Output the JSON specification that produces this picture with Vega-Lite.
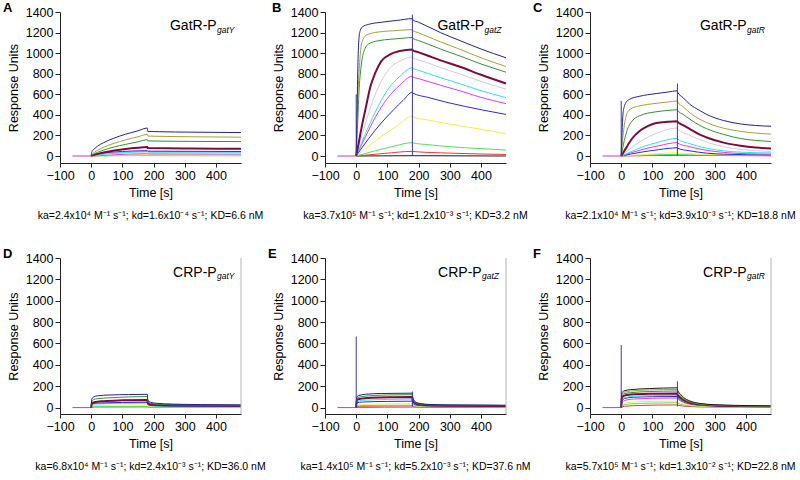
{
"$schema":"https://vega.github.io/schema/vega-lite/v6.json",
"background":"white",
"padding":{"left":3,"top":2,"right":2,"bottom":2},
"config":{"view":{"stroke":null},"font":"Liberation Sans",
"axis":{"grid":false,"domainColor":"#222","tickColor":"#222","labelColor":"#000","titleColor":"#000","labelFontSize":12.5,"titleFontSize":12.5,"titleFontWeight":"normal","tickSize":4,"labelPadding":2,"titlePadding":5,"labelFlush":false,"labelOverlap":false,"tickCount":20},
"axisY":{"tickSize":5,"labelPadding":2},
"title":{"color":"#000","font":"Liberation Sans"},
"text":{"font":"Liberation Sans","color":"#000"}},
"datasets":{
"s":[{"p":"B","t":0,"lo":0,"hi":600},{"p":"B","t":180,"lo":0,"hi":1375},{"p":"C","t":0,"lo":0,"hi":534},{"p":"C","t":180,"lo":0,"hi":705},{"p":"E","t":0,"lo":0,"hi":665},{"p":"E","t":180,"lo":10,"hi":150},{"p":"F","t":0,"lo":0,"hi":585},{"p":"F","t":180,"lo":10,"hi":245}],
"d":[
{"p":"A","c":"pre","t":-60,"v":0},{"p":"A","c":"pre","t":0,"v":0},
{"p":"B","c":"pre","t":-60,"v":0},{"p":"B","c":"pre","t":0,"v":0},
{"p":"C","c":"pre","t":-60,"v":0},{"p":"C","c":"pre","t":0,"v":0},
{"p":"D","c":"pre","t":-60,"v":0},{"p":"D","c":"pre","t":0,"v":0},
{"p":"E","c":"pre","t":-60,"v":0},{"p":"E","c":"pre","t":0,"v":0},
{"p":"F","c":"pre","t":-60,"v":0},{"p":"F","c":"pre","t":0,"v":0},
{"p":"A","c":"c10","t":0,"v":0},{"p":"A","c":"c10","t":180,"v":4},{"p":"A","c":"c10","t":480,"v":2},
{"p":"A","c":"c9","t":0,"v":0},{"p":"A","c":"c9","t":180,"v":12},{"p":"A","c":"c9","t":181,"v":11},{"p":"A","c":"c9","t":480,"v":9},
{"p":"A","c":"c7","t":0,"v":0},{"p":"A","c":"c7","t":60,"v":10},{"p":"A","c":"c7","t":180,"v":22},{"p":"A","c":"c7","t":181,"v":20},{"p":"A","c":"c7","t":480,"v":18},
{"p":"A","c":"c5","t":0,"v":0},{"p":"A","c":"c5","t":40,"v":15},{"p":"A","c":"c5","t":110,"v":30},{"p":"A","c":"c5","t":180,"v":38},{"p":"A","c":"c5","t":181,"v":34},{"p":"A","c":"c5","t":480,"v":31},
{"p":"A","c":"c6","t":0,"v":0},{"p":"A","c":"c6","t":40,"v":18},{"p":"A","c":"c6","t":110,"v":35},{"p":"A","c":"c6","t":180,"v":44},{"p":"A","c":"c6","t":181,"v":40},{"p":"A","c":"c6","t":480,"v":37},
{"p":"A","c":"c8","t":0,"v":0},{"p":"A","c":"c8","t":20,"v":20},{"p":"A","c":"c8","t":70,"v":38},{"p":"A","c":"c8","t":130,"v":48},{"p":"A","c":"c8","t":180,"v":52},{"p":"A","c":"c8","t":181,"v":47},{"p":"A","c":"c8","t":480,"v":44},
{"p":"A","c":"c4","t":0,"v":0},{"p":"A","c":"c4","t":5,"v":8},{"p":"A","c":"c4","t":10,"v":12},{"p":"A","c":"c4","t":20,"v":20},{"p":"A","c":"c4","t":40,"v":35},{"p":"A","c":"c4","t":70,"v":52},{"p":"A","c":"c4","t":110,"v":68},{"p":"A","c":"c4","t":150,"v":80},{"p":"A","c":"c4","t":180,"v":87},{"p":"A","c":"c4","t":181,"v":77},{"p":"A","c":"c4","t":320,"v":73},{"p":"A","c":"c4","t":480,"v":71},
{"p":"A","c":"c3","t":0,"v":0},{"p":"A","c":"c3","t":2,"v":8},{"p":"A","c":"c3","t":5,"v":14},{"p":"A","c":"c3","t":10,"v":22},{"p":"A","c":"c3","t":20,"v":35},{"p":"A","c":"c3","t":40,"v":58},{"p":"A","c":"c3","t":70,"v":85},{"p":"A","c":"c3","t":110,"v":113},{"p":"A","c":"c3","t":150,"v":138},{"p":"A","c":"c3","t":180,"v":158},{"p":"A","c":"c3","t":181,"v":147},{"p":"A","c":"c3","t":220,"v":145},{"p":"A","c":"c3","t":320,"v":142},{"p":"A","c":"c3","t":480,"v":140},
{"p":"A","c":"c2","t":0,"v":0},{"p":"A","c":"c2","t":2,"v":15},{"p":"A","c":"c2","t":5,"v":25},{"p":"A","c":"c2","t":10,"v":35},{"p":"A","c":"c2","t":20,"v":55},{"p":"A","c":"c2","t":40,"v":85},{"p":"A","c":"c2","t":70,"v":120},{"p":"A","c":"c2","t":110,"v":157},{"p":"A","c":"c2","t":150,"v":187},{"p":"A","c":"c2","t":180,"v":210},{"p":"A","c":"c2","t":181,"v":194},{"p":"A","c":"c2","t":220,"v":191},{"p":"A","c":"c2","t":320,"v":187},{"p":"A","c":"c2","t":480,"v":183},
{"p":"A","c":"c1","t":0,"v":0},{"p":"A","c":"c1","t":2,"v":40},{"p":"A","c":"c1","t":5,"v":55},{"p":"A","c":"c1","t":10,"v":70},{"p":"A","c":"c1","t":20,"v":95},{"p":"A","c":"c1","t":40,"v":130},{"p":"A","c":"c1","t":70,"v":170},{"p":"A","c":"c1","t":110,"v":212},{"p":"A","c":"c1","t":150,"v":245},{"p":"A","c":"c1","t":180,"v":272},{"p":"A","c":"c1","t":181,"v":240},{"p":"A","c":"c1","t":220,"v":236},{"p":"A","c":"c1","t":320,"v":232},{"p":"A","c":"c1","t":480,"v":228},

{"p":"B","c":"c12","t":0,"v":0},{"p":"B","c":"c12","t":180,"v":3},{"p":"B","c":"c12","t":480,"v":0},
{"p":"B","c":"c11","t":0,"v":0},{"p":"B","c":"c11","t":90,"v":25},{"p":"B","c":"c11","t":180,"v":45},{"p":"B","c":"c11","t":181,"v":44},{"p":"B","c":"c11","t":300,"v":28},{"p":"B","c":"c11","t":480,"v":15},
{"p":"B","c":"c10","t":0,"v":0},{"p":"B","c":"c10","t":60,"v":50},{"p":"B","c":"c10","t":120,"v":95},{"p":"B","c":"c10","t":180,"v":130},{"p":"B","c":"c10","t":181,"v":128},{"p":"B","c":"c10","t":230,"v":110},{"p":"B","c":"c10","t":300,"v":90},{"p":"B","c":"c10","t":400,"v":72},{"p":"B","c":"c10","t":480,"v":58},
{"p":"B","c":"c9","t":0,"v":0},{"p":"B","c":"c9","t":40,"v":95},{"p":"B","c":"c9","t":80,"v":190},{"p":"B","c":"c9","t":130,"v":290},{"p":"B","c":"c9","t":180,"v":388},{"p":"B","c":"c9","t":181,"v":383},{"p":"B","c":"c9","t":230,"v":350},{"p":"B","c":"c9","t":300,"v":310},{"p":"B","c":"c9","t":400,"v":260},{"p":"B","c":"c9","t":480,"v":217},
{"p":"B","c":"c8","t":0,"v":0},{"p":"B","c":"c8","t":40,"v":170},{"p":"B","c":"c8","t":80,"v":320},{"p":"B","c":"c8","t":120,"v":450},{"p":"B","c":"c8","t":150,"v":540},{"p":"B","c":"c8","t":180,"v":620},{"p":"B","c":"c8","t":181,"v":612},{"p":"B","c":"c8","t":230,"v":570},{"p":"B","c":"c8","t":300,"v":515},{"p":"B","c":"c8","t":400,"v":450},{"p":"B","c":"c8","t":480,"v":404},
{"p":"B","c":"c7","t":0,"v":0},{"p":"B","c":"c7","t":30,"v":190},{"p":"B","c":"c7","t":60,"v":370},{"p":"B","c":"c7","t":100,"v":560},{"p":"B","c":"c7","t":140,"v":690},{"p":"B","c":"c7","t":180,"v":775},{"p":"B","c":"c7","t":181,"v":769},{"p":"B","c":"c7","t":200,"v":752},{"p":"B","c":"c7","t":230,"v":725},{"p":"B","c":"c7","t":270,"v":688},{"p":"B","c":"c7","t":330,"v":636},{"p":"B","c":"c7","t":400,"v":570},{"p":"B","c":"c7","t":480,"v":509},
{"p":"B","c":"c6","t":0,"v":0},{"p":"B","c":"c6","t":30,"v":220},{"p":"B","c":"c6","t":60,"v":420},{"p":"B","c":"c6","t":100,"v":640},{"p":"B","c":"c6","t":140,"v":775},{"p":"B","c":"c6","t":180,"v":858},{"p":"B","c":"c6","t":181,"v":852},{"p":"B","c":"c6","t":200,"v":833},{"p":"B","c":"c6","t":230,"v":803},{"p":"B","c":"c6","t":270,"v":762},{"p":"B","c":"c6","t":330,"v":705},{"p":"B","c":"c6","t":400,"v":635},{"p":"B","c":"c6","t":480,"v":568},
{"p":"B","c":"c5","t":0,"v":0},{"p":"B","c":"c5","t":20,"v":220},{"p":"B","c":"c5","t":40,"v":420},{"p":"B","c":"c5","t":73,"v":683},{"p":"B","c":"c5","t":110,"v":860},{"p":"B","c":"c5","t":145,"v":930},{"p":"B","c":"c5","t":180,"v":962},{"p":"B","c":"c5","t":181,"v":955},{"p":"B","c":"c5","t":200,"v":935},{"p":"B","c":"c5","t":230,"v":905},{"p":"B","c":"c5","t":270,"v":860},{"p":"B","c":"c5","t":330,"v":800},{"p":"B","c":"c5","t":400,"v":725},{"p":"B","c":"c5","t":480,"v":650},
{"p":"B","c":"c4","t":0,"v":0},{"p":"B","c":"c4","t":10,"v":160},{"p":"B","c":"c4","t":20,"v":320},{"p":"B","c":"c4","t":30,"v":460},{"p":"B","c":"c4","t":46,"v":680},{"p":"B","c":"c4","t":60,"v":800},{"p":"B","c":"c4","t":80,"v":920},{"p":"B","c":"c4","t":110,"v":990},{"p":"B","c":"c4","t":140,"v":1020},{"p":"B","c":"c4","t":180,"v":1035},{"p":"B","c":"c4","t":181,"v":1028},{"p":"B","c":"c4","t":200,"v":1008},{"p":"B","c":"c4","t":230,"v":975},{"p":"B","c":"c4","t":270,"v":930},{"p":"B","c":"c4","t":330,"v":870},{"p":"B","c":"c4","t":400,"v":790},{"p":"B","c":"c4","t":480,"v":705},
{"p":"B","c":"c3","t":0,"v":0},{"p":"B","c":"c3","t":5,"v":350},{"p":"B","c":"c3","t":9,"v":630},{"p":"B","c":"c3","t":15,"v":850},{"p":"B","c":"c3","t":25,"v":1020},{"p":"B","c":"c3","t":40,"v":1090},{"p":"B","c":"c3","t":70,"v":1120},{"p":"B","c":"c3","t":110,"v":1135},{"p":"B","c":"c3","t":150,"v":1145},{"p":"B","c":"c3","t":180,"v":1152},{"p":"B","c":"c3","t":181,"v":1145},{"p":"B","c":"c3","t":200,"v":1122},{"p":"B","c":"c3","t":230,"v":1088},{"p":"B","c":"c3","t":270,"v":1040},{"p":"B","c":"c3","t":330,"v":975},{"p":"B","c":"c3","t":400,"v":895},{"p":"B","c":"c3","t":480,"v":815},
{"p":"B","c":"c2","t":0,"v":0},{"p":"B","c":"c2","t":3,"v":300},{"p":"B","c":"c2","t":6,"v":620},{"p":"B","c":"c2","t":10,"v":850},{"p":"B","c":"c2","t":15,"v":1050},{"p":"B","c":"c2","t":20,"v":1120},{"p":"B","c":"c2","t":35,"v":1180},{"p":"B","c":"c2","t":70,"v":1205},{"p":"B","c":"c2","t":120,"v":1218},{"p":"B","c":"c2","t":180,"v":1228},{"p":"B","c":"c2","t":181,"v":1220},{"p":"B","c":"c2","t":200,"v":1198},{"p":"B","c":"c2","t":230,"v":1160},{"p":"B","c":"c2","t":270,"v":1110},{"p":"B","c":"c2","t":330,"v":1040},{"p":"B","c":"c2","t":400,"v":955},{"p":"B","c":"c2","t":480,"v":870},
{"p":"B","c":"c1","t":0,"v":0},{"p":"B","c":"c1","t":3,"v":500},{"p":"B","c":"c1","t":6,"v":950},{"p":"B","c":"c1","t":9,"v":1150},{"p":"B","c":"c1","t":13,"v":1220},{"p":"B","c":"c1","t":20,"v":1255},{"p":"B","c":"c1","t":40,"v":1280},{"p":"B","c":"c1","t":80,"v":1300},{"p":"B","c":"c1","t":130,"v":1318},{"p":"B","c":"c1","t":180,"v":1335},{"p":"B","c":"c1","t":181,"v":1325},{"p":"B","c":"c1","t":200,"v":1300},{"p":"B","c":"c1","t":230,"v":1258},{"p":"B","c":"c1","t":270,"v":1200},{"p":"B","c":"c1","t":330,"v":1125},{"p":"B","c":"c1","t":400,"v":1040},{"p":"B","c":"c1","t":480,"v":955},

{"p":"C","c":"c11","t":0,"v":0},{"p":"C","c":"c11","t":180,"v":6},{"p":"C","c":"c11","t":480,"v":2},
{"p":"C","c":"c10","t":0,"v":0},{"p":"C","c":"c10","t":180,"v":15},{"p":"C","c":"c10","t":181,"v":14},{"p":"C","c":"c10","t":300,"v":8},{"p":"C","c":"c10","t":480,"v":5},
{"p":"C","c":"c9","t":0,"v":0},{"p":"C","c":"c9","t":90,"v":18},{"p":"C","c":"c9","t":180,"v":30},{"p":"C","c":"c9","t":181,"v":28},{"p":"C","c":"c9","t":300,"v":15},{"p":"C","c":"c9","t":480,"v":10},
{"p":"C","c":"c8","t":0,"v":0},{"p":"C","c":"c8","t":60,"v":35},{"p":"C","c":"c8","t":120,"v":62},{"p":"C","c":"c8","t":180,"v":80},{"p":"C","c":"c8","t":181,"v":75},{"p":"C","c":"c8","t":220,"v":50},{"p":"C","c":"c8","t":274,"v":28},{"p":"C","c":"c8","t":328,"v":18},{"p":"C","c":"c8","t":480,"v":10},
{"p":"C","c":"c7","t":0,"v":0},{"p":"C","c":"c7","t":30,"v":30},{"p":"C","c":"c7","t":70,"v":65},{"p":"C","c":"c7","t":120,"v":100},{"p":"C","c":"c7","t":180,"v":130},{"p":"C","c":"c7","t":181,"v":125},{"p":"C","c":"c7","t":220,"v":90},{"p":"C","c":"c7","t":274,"v":55},{"p":"C","c":"c7","t":328,"v":35},{"p":"C","c":"c7","t":400,"v":22},{"p":"C","c":"c7","t":480,"v":18},
{"p":"C","c":"c6","t":0,"v":0},{"p":"C","c":"c6","t":30,"v":40},{"p":"C","c":"c6","t":70,"v":90},{"p":"C","c":"c6","t":120,"v":135},{"p":"C","c":"c6","t":180,"v":172},{"p":"C","c":"c6","t":181,"v":165},{"p":"C","c":"c6","t":220,"v":120},{"p":"C","c":"c6","t":274,"v":75},{"p":"C","c":"c6","t":328,"v":50},{"p":"C","c":"c6","t":400,"v":35},{"p":"C","c":"c6","t":480,"v":30},
{"p":"C","c":"c5","t":0,"v":0},{"p":"C","c":"c5","t":20,"v":50},{"p":"C","c":"c5","t":50,"v":120},{"p":"C","c":"c5","t":90,"v":190},{"p":"C","c":"c5","t":130,"v":240},{"p":"C","c":"c5","t":180,"v":272},{"p":"C","c":"c5","t":181,"v":265},{"p":"C","c":"c5","t":220,"v":200},{"p":"C","c":"c5","t":274,"v":135},{"p":"C","c":"c5","t":328,"v":90},{"p":"C","c":"c5","t":382,"v":65},{"p":"C","c":"c5","t":430,"v":52},{"p":"C","c":"c5","t":480,"v":45},
{"p":"C","c":"c4","t":0,"v":0},{"p":"C","c":"c4","t":10,"v":50},{"p":"C","c":"c4","t":20,"v":100},{"p":"C","c":"c4","t":35,"v":170},{"p":"C","c":"c4","t":58,"v":240},{"p":"C","c":"c4","t":85,"v":290},{"p":"C","c":"c4","t":112,"v":320},{"p":"C","c":"c4","t":150,"v":333},{"p":"C","c":"c4","t":180,"v":338},{"p":"C","c":"c4","t":181,"v":332},{"p":"C","c":"c4","t":198,"v":300},{"p":"C","c":"c4","t":220,"v":262},{"p":"C","c":"c4","t":250,"v":210},{"p":"C","c":"c4","t":274,"v":180},{"p":"C","c":"c4","t":328,"v":130},{"p":"C","c":"c4","t":382,"v":100},{"p":"C","c":"c4","t":430,"v":82},{"p":"C","c":"c4","t":480,"v":72},
{"p":"C","c":"c3","t":0,"v":0},{"p":"C","c":"c3","t":10,"v":150},{"p":"C","c":"c3","t":20,"v":260},{"p":"C","c":"c3","t":35,"v":340},{"p":"C","c":"c3","t":58,"v":390},{"p":"C","c":"c3","t":112,"v":430},{"p":"C","c":"c3","t":150,"v":443},{"p":"C","c":"c3","t":180,"v":450},{"p":"C","c":"c3","t":181,"v":443},{"p":"C","c":"c3","t":198,"v":405},{"p":"C","c":"c3","t":220,"v":358},{"p":"C","c":"c3","t":250,"v":300},{"p":"C","c":"c3","t":274,"v":265},{"p":"C","c":"c3","t":328,"v":210},{"p":"C","c":"c3","t":382,"v":170},{"p":"C","c":"c3","t":430,"v":152},{"p":"C","c":"c3","t":480,"v":141},
{"p":"C","c":"c2","t":0,"v":0},{"p":"C","c":"c2","t":3,"v":100},{"p":"C","c":"c2","t":6,"v":200},{"p":"C","c":"c2","t":10,"v":300},{"p":"C","c":"c2","t":15,"v":380},{"p":"C","c":"c2","t":21,"v":430},{"p":"C","c":"c2","t":35,"v":465},{"p":"C","c":"c2","t":58,"v":486},{"p":"C","c":"c2","t":112,"v":512},{"p":"C","c":"c2","t":150,"v":525},{"p":"C","c":"c2","t":180,"v":535},{"p":"C","c":"c2","t":181,"v":525},{"p":"C","c":"c2","t":198,"v":480},{"p":"C","c":"c2","t":220,"v":420},{"p":"C","c":"c2","t":250,"v":360},{"p":"C","c":"c2","t":274,"v":325},{"p":"C","c":"c2","t":328,"v":270},{"p":"C","c":"c2","t":382,"v":240},{"p":"C","c":"c2","t":430,"v":223},{"p":"C","c":"c2","t":480,"v":213},
{"p":"C","c":"c1","t":0,"v":0},{"p":"C","c":"c1","t":3,"v":250},{"p":"C","c":"c1","t":6,"v":420},{"p":"C","c":"c1","t":10,"v":480},{"p":"C","c":"c1","t":15,"v":519},{"p":"C","c":"c1","t":26,"v":550},{"p":"C","c":"c1","t":58,"v":580},{"p":"C","c":"c1","t":112,"v":607},{"p":"C","c":"c1","t":150,"v":622},{"p":"C","c":"c1","t":180,"v":634},{"p":"C","c":"c1","t":181,"v":620},{"p":"C","c":"c1","t":198,"v":568},{"p":"C","c":"c1","t":220,"v":503},{"p":"C","c":"c1","t":250,"v":445},{"p":"C","c":"c1","t":274,"v":404},{"p":"C","c":"c1","t":328,"v":345},{"p":"C","c":"c1","t":382,"v":312},{"p":"C","c":"c1","t":430,"v":297},{"p":"C","c":"c1","t":480,"v":289},

{"p":"D","c":"c7","t":0,"v":0},{"p":"D","c":"c7","t":10,"v":5},{"p":"D","c":"c7","t":180,"v":6},{"p":"D","c":"c7","t":181,"v":3},{"p":"D","c":"c7","t":480,"v":2},
{"p":"D","c":"c10","t":0,"v":0},{"p":"D","c":"c10","t":5,"v":8},{"p":"D","c":"c10","t":180,"v":10},{"p":"D","c":"c10","t":181,"v":5},{"p":"D","c":"c10","t":480,"v":3},
{"p":"D","c":"c9","t":0,"v":0},{"p":"D","c":"c9","t":5,"v":18},{"p":"D","c":"c9","t":60,"v":23},{"p":"D","c":"c9","t":180,"v":25},{"p":"D","c":"c9","t":181,"v":15},{"p":"D","c":"c9","t":220,"v":8},{"p":"D","c":"c9","t":480,"v":6},
{"p":"D","c":"c6","t":0,"v":0},{"p":"D","c":"c6","t":2,"v":28},{"p":"D","c":"c6","t":20,"v":34},{"p":"D","c":"c6","t":100,"v":40},{"p":"D","c":"c6","t":180,"v":42},{"p":"D","c":"c6","t":181,"v":25},{"p":"D","c":"c6","t":200,"v":15},{"p":"D","c":"c6","t":300,"v":11},{"p":"D","c":"c6","t":480,"v":9},
{"p":"D","c":"c8","t":0,"v":0},{"p":"D","c":"c8","t":2,"v":35},{"p":"D","c":"c8","t":20,"v":42},{"p":"D","c":"c8","t":100,"v":48},{"p":"D","c":"c8","t":180,"v":50},{"p":"D","c":"c8","t":181,"v":30},{"p":"D","c":"c8","t":190,"v":20},{"p":"D","c":"c8","t":250,"v":15},{"p":"D","c":"c8","t":480,"v":12},
{"p":"D","c":"c4","t":0,"v":0},{"p":"D","c":"c4","t":2,"v":40},{"p":"D","c":"c4","t":10,"v":50},{"p":"D","c":"c4","t":40,"v":60},{"p":"D","c":"c4","t":100,"v":68},{"p":"D","c":"c4","t":180,"v":72},{"p":"D","c":"c4","t":181,"v":45},{"p":"D","c":"c4","t":190,"v":30},{"p":"D","c":"c4","t":220,"v":24},{"p":"D","c":"c4","t":300,"v":20},{"p":"D","c":"c4","t":480,"v":18},
{"p":"D","c":"c3","t":0,"v":0},{"p":"D","c":"c3","t":2,"v":60},{"p":"D","c":"c3","t":8,"v":75},{"p":"D","c":"c3","t":20,"v":83},{"p":"D","c":"c3","t":60,"v":92},{"p":"D","c":"c3","t":120,"v":100},{"p":"D","c":"c3","t":180,"v":103},{"p":"D","c":"c3","t":181,"v":60},{"p":"D","c":"c3","t":190,"v":40},{"p":"D","c":"c3","t":210,"v":32},{"p":"D","c":"c3","t":260,"v":27},{"p":"D","c":"c3","t":350,"v":23},{"p":"D","c":"c3","t":480,"v":21},
{"p":"D","c":"c1","t":0,"v":0},{"p":"D","c":"c1","t":2,"v":80},{"p":"D","c":"c1","t":8,"v":100},{"p":"D","c":"c1","t":20,"v":110},{"p":"D","c":"c1","t":60,"v":118},{"p":"D","c":"c1","t":120,"v":122},{"p":"D","c":"c1","t":180,"v":124},{"p":"D","c":"c1","t":181,"v":75},{"p":"D","c":"c1","t":190,"v":50},{"p":"D","c":"c1","t":210,"v":40},{"p":"D","c":"c1","t":260,"v":33},{"p":"D","c":"c1","t":350,"v":28},{"p":"D","c":"c1","t":480,"v":25},

{"p":"E","c":"c7","t":0,"v":0},{"p":"E","c":"c7","t":180,"v":4},{"p":"E","c":"c7","t":480,"v":2},
{"p":"E","c":"c11","t":0,"v":0},{"p":"E","c":"c11","t":10,"v":12},{"p":"E","c":"c11","t":180,"v":16},{"p":"E","c":"c11","t":181,"v":10},{"p":"E","c":"c11","t":220,"v":5},{"p":"E","c":"c11","t":480,"v":4},
{"p":"E","c":"c10","t":0,"v":0},{"p":"E","c":"c10","t":5,"v":18},{"p":"E","c":"c10","t":180,"v":22},{"p":"E","c":"c10","t":181,"v":14},{"p":"E","c":"c10","t":220,"v":8},{"p":"E","c":"c10","t":480,"v":6},
{"p":"E","c":"c9","t":0,"v":0},{"p":"E","c":"c9","t":5,"v":25},{"p":"E","c":"c9","t":60,"v":32},{"p":"E","c":"c9","t":180,"v":36},{"p":"E","c":"c9","t":181,"v":24},{"p":"E","c":"c9","t":200,"v":14},{"p":"E","c":"c9","t":260,"v":10},{"p":"E","c":"c9","t":480,"v":8},
{"p":"E","c":"c8","t":0,"v":0},{"p":"E","c":"c8","t":2,"v":45},{"p":"E","c":"c8","t":20,"v":52},{"p":"E","c":"c8","t":100,"v":58},{"p":"E","c":"c8","t":180,"v":60},{"p":"E","c":"c8","t":181,"v":40},{"p":"E","c":"c8","t":195,"v":22},{"p":"E","c":"c8","t":230,"v":16},{"p":"E","c":"c8","t":480,"v":12},
{"p":"E","c":"c6","t":0,"v":0},{"p":"E","c":"c6","t":2,"v":55},{"p":"E","c":"c6","t":20,"v":68},{"p":"E","c":"c6","t":100,"v":76},{"p":"E","c":"c6","t":180,"v":80},{"p":"E","c":"c6","t":181,"v":52},{"p":"E","c":"c6","t":195,"v":30},{"p":"E","c":"c6","t":230,"v":20},{"p":"E","c":"c6","t":480,"v":14},
{"p":"E","c":"c4","t":0,"v":0},{"p":"E","c":"c4","t":2,"v":70},{"p":"E","c":"c4","t":10,"v":80},{"p":"E","c":"c4","t":50,"v":92},{"p":"E","c":"c4","t":120,"v":97},{"p":"E","c":"c4","t":180,"v":99},{"p":"E","c":"c4","t":181,"v":65},{"p":"E","c":"c4","t":190,"v":40},{"p":"E","c":"c4","t":205,"v":28},{"p":"E","c":"c4","t":230,"v":22},{"p":"E","c":"c4","t":300,"v":18},{"p":"E","c":"c4","t":480,"v":16},
{"p":"E","c":"c3","t":0,"v":0},{"p":"E","c":"c3","t":2,"v":85},{"p":"E","c":"c3","t":10,"v":98},{"p":"E","c":"c3","t":40,"v":110},{"p":"E","c":"c3","t":100,"v":118},{"p":"E","c":"c3","t":180,"v":121},{"p":"E","c":"c3","t":181,"v":80},{"p":"E","c":"c3","t":190,"v":48},{"p":"E","c":"c3","t":205,"v":33},{"p":"E","c":"c3","t":230,"v":27},{"p":"E","c":"c3","t":300,"v":22},{"p":"E","c":"c3","t":480,"v":20},
{"p":"E","c":"c1","t":0,"v":0},{"p":"E","c":"c1","t":2,"v":100},{"p":"E","c":"c1","t":8,"v":112},{"p":"E","c":"c1","t":30,"v":125},{"p":"E","c":"c1","t":80,"v":132},{"p":"E","c":"c1","t":180,"v":135},{"p":"E","c":"c1","t":181,"v":90},{"p":"E","c":"c1","t":190,"v":55},{"p":"E","c":"c1","t":205,"v":38},{"p":"E","c":"c1","t":230,"v":30},{"p":"E","c":"c1","t":300,"v":25},{"p":"E","c":"c1","t":480,"v":22},

{"p":"F","c":"c11","t":0,"v":0},{"p":"F","c":"c11","t":10,"v":12},{"p":"F","c":"c11","t":60,"v":20},{"p":"F","c":"c11","t":180,"v":25},{"p":"F","c":"c11","t":181,"v":22},{"p":"F","c":"c11","t":210,"v":12},{"p":"F","c":"c11","t":260,"v":6},{"p":"F","c":"c11","t":480,"v":3},
{"p":"F","c":"c10","t":0,"v":0},{"p":"F","c":"c10","t":5,"v":20},{"p":"F","c":"c10","t":30,"v":35},{"p":"F","c":"c10","t":100,"v":42},{"p":"F","c":"c10","t":180,"v":45},{"p":"F","c":"c10","t":181,"v":40},{"p":"F","c":"c10","t":200,"v":25},{"p":"F","c":"c10","t":230,"v":14},{"p":"F","c":"c10","t":300,"v":8},{"p":"F","c":"c10","t":480,"v":5},
{"p":"F","c":"c9","t":0,"v":0},{"p":"F","c":"c9","t":5,"v":30},{"p":"F","c":"c9","t":20,"v":45},{"p":"F","c":"c9","t":60,"v":55},{"p":"F","c":"c9","t":180,"v":60},{"p":"F","c":"c9","t":181,"v":54},{"p":"F","c":"c9","t":200,"v":35},{"p":"F","c":"c9","t":230,"v":20},{"p":"F","c":"c9","t":300,"v":10},{"p":"F","c":"c9","t":480,"v":7},
{"p":"F","c":"c7","t":0,"v":0},{"p":"F","c":"c7","t":3,"v":45},{"p":"F","c":"c7","t":10,"v":65},{"p":"F","c":"c7","t":40,"v":80},{"p":"F","c":"c7","t":100,"v":87},{"p":"F","c":"c7","t":180,"v":90},{"p":"F","c":"c7","t":181,"v":80},{"p":"F","c":"c7","t":190,"v":62},{"p":"F","c":"c7","t":200,"v":48},{"p":"F","c":"c7","t":220,"v":32},{"p":"F","c":"c7","t":250,"v":21},{"p":"F","c":"c7","t":300,"v":14},{"p":"F","c":"c7","t":480,"v":9},
{"p":"F","c":"c8","t":0,"v":0},{"p":"F","c":"c8","t":3,"v":60},{"p":"F","c":"c8","t":10,"v":85},{"p":"F","c":"c8","t":40,"v":97},{"p":"F","c":"c8","t":100,"v":102},{"p":"F","c":"c8","t":180,"v":104},{"p":"F","c":"c8","t":181,"v":92},{"p":"F","c":"c8","t":190,"v":72},{"p":"F","c":"c8","t":200,"v":55},{"p":"F","c":"c8","t":220,"v":37},{"p":"F","c":"c8","t":250,"v":24},{"p":"F","c":"c8","t":300,"v":16},{"p":"F","c":"c8","t":480,"v":10},
{"p":"F","c":"c6","t":0,"v":0},{"p":"F","c":"c6","t":3,"v":70},{"p":"F","c":"c6","t":10,"v":92},{"p":"F","c":"c6","t":40,"v":106},{"p":"F","c":"c6","t":100,"v":112},{"p":"F","c":"c6","t":180,"v":115},{"p":"F","c":"c6","t":181,"v":100},{"p":"F","c":"c6","t":190,"v":78},{"p":"F","c":"c6","t":200,"v":60},{"p":"F","c":"c6","t":220,"v":40},{"p":"F","c":"c6","t":250,"v":26},{"p":"F","c":"c6","t":300,"v":18},{"p":"F","c":"c6","t":480,"v":11},
{"p":"F","c":"c4","t":0,"v":0},{"p":"F","c":"c4","t":2,"v":90},{"p":"F","c":"c4","t":8,"v":110},{"p":"F","c":"c4","t":30,"v":122},{"p":"F","c":"c4","t":90,"v":130},{"p":"F","c":"c4","t":180,"v":133},{"p":"F","c":"c4","t":181,"v":115},{"p":"F","c":"c4","t":190,"v":90},{"p":"F","c":"c4","t":200,"v":70},{"p":"F","c":"c4","t":220,"v":46},{"p":"F","c":"c4","t":250,"v":30},{"p":"F","c":"c4","t":300,"v":20},{"p":"F","c":"c4","t":380,"v":15},{"p":"F","c":"c4","t":480,"v":12},
{"p":"F","c":"c3","t":0,"v":0},{"p":"F","c":"c3","t":2,"v":110},{"p":"F","c":"c3","t":8,"v":128},{"p":"F","c":"c3","t":30,"v":140},{"p":"F","c":"c3","t":90,"v":150},{"p":"F","c":"c3","t":180,"v":155},{"p":"F","c":"c3","t":181,"v":135},{"p":"F","c":"c3","t":190,"v":105},{"p":"F","c":"c3","t":200,"v":80},{"p":"F","c":"c3","t":220,"v":52},{"p":"F","c":"c3","t":250,"v":33},{"p":"F","c":"c3","t":300,"v":22},{"p":"F","c":"c3","t":380,"v":16},{"p":"F","c":"c3","t":480,"v":13},
{"p":"F","c":"c2","t":0,"v":0},{"p":"F","c":"c2","t":2,"v":125},{"p":"F","c":"c2","t":8,"v":142},{"p":"F","c":"c2","t":30,"v":155},{"p":"F","c":"c2","t":90,"v":165},{"p":"F","c":"c2","t":180,"v":170},{"p":"F","c":"c2","t":181,"v":148},{"p":"F","c":"c2","t":190,"v":115},{"p":"F","c":"c2","t":200,"v":88},{"p":"F","c":"c2","t":220,"v":58},{"p":"F","c":"c2","t":250,"v":37},{"p":"F","c":"c2","t":300,"v":25},{"p":"F","c":"c2","t":380,"v":18},{"p":"F","c":"c2","t":480,"v":15},
{"p":"F","c":"c12","t":0,"v":0},{"p":"F","c":"c12","t":2,"v":140},{"p":"F","c":"c12","t":8,"v":155},{"p":"F","c":"c12","t":30,"v":168},{"p":"F","c":"c12","t":90,"v":178},{"p":"F","c":"c12","t":180,"v":185},{"p":"F","c":"c12","t":181,"v":160},{"p":"F","c":"c12","t":190,"v":125},{"p":"F","c":"c12","t":200,"v":95},{"p":"F","c":"c12","t":220,"v":62},{"p":"F","c":"c12","t":250,"v":40},{"p":"F","c":"c12","t":300,"v":27},{"p":"F","c":"c12","t":380,"v":20},{"p":"F","c":"c12","t":480,"v":16}
]},
"columns":3,
"spacing":{"row":95,"column":84},
"bounds":"flush",
"concat":[
{"width":181,"height":151,"title":{"text":"ka=2.4x10⁴ M⁻¹ s⁻¹; kd=1.6x10⁻⁴ s⁻¹; KD=6.6 nM","orient":"bottom","fontSize":10.5,"fontWeight":"normal","offset":12},
"layer":[
{"data":{"name":"d"},"transform":[{"filter":"datum.p=='A'"}],"mark":{"type":"line","interpolate":"monotone"},"encoding":{"x":{"field":"t","type":"quantitative","scale":{"domain":[-100,480],"nice":false,"zero":false},"axis":{"values":[-100,0,100,200,300,400],"tickCount":20,"title":"Time [s]","labelOverlap":false,"format":"d"}},"y":{"field":"v","type":"quantitative","scale":{"domain":[-68,1400],"nice":false},"axis":{"values":[0,200,400,600,800,1000,1200,1400],"tickCount":20,"title":"Response Units","labelOverlap":false,"format":"d"}},"color":{"field":"c","type":"nominal","scale":{"domain":["pre","c1","c2","c3","c4","c5","c6","c7","c8","c9","c10","c11","c12"],"range":["#c040c0","#22228f","#a3a33a","#2f952f","#7d0b3c","#cfcfcf","#29e3ee","#e43be4","#2b2bd0","#f2f23a","#55e055","#e23b3b","#1a1a1a"]},"legend":null},"strokeWidth":{"condition":{"test":"datum.c=='c4'","value":2},"value":1}}},
{"data":{"values":[{}]},"mark":{"type":"text","text":"A","align":"left","baseline":"alphabetic","dx":-57,"fontSize":13,"fontWeight":"bold"},"encoding":{"x":{"datum":-100},"y":{"datum":1400}}},
{"data":{"values":[{}]},"mark":{"type":"text","text":"GatR-P","align":"right","baseline":"alphabetic","fontSize":14},"encoding":{"x":{"datum":402},"y":{"datum":1225}}},
{"data":{"values":[{}]},"mark":{"type":"text","text":"gatY","align":"left","baseline":"alphabetic","fontSize":8.5,"fontStyle":"italic"},"encoding":{"x":{"datum":403},"y":{"datum":1200}}}
]},
{"width":181,"height":151,"title":{"text":"ka=3.7x10⁵ M⁻¹ s⁻¹; kd=1.2x10⁻³ s⁻¹; KD=3.2 nM","orient":"bottom","fontSize":10.5,"fontWeight":"normal","offset":12},
"layer":[
{"data":{"name":"d"},"transform":[{"filter":"datum.p=='B'"}],"mark":{"type":"line","interpolate":"monotone"},"encoding":{"x":{"field":"t","type":"quantitative","scale":{"domain":[-100,480],"nice":false,"zero":false},"axis":{"values":[-100,0,100,200,300,400],"tickCount":20,"title":"Time [s]","labelOverlap":false,"format":"d"}},"y":{"field":"v","type":"quantitative","scale":{"domain":[-68,1400],"nice":false},"axis":{"values":[0,200,400,600,800,1000,1200,1400],"tickCount":20,"title":"Response Units","labelOverlap":false,"format":"d"}},"color":{"field":"c","type":"nominal","scale":{"domain":["pre","c1","c2","c3","c4","c5","c6","c7","c8","c9","c10","c11","c12"],"range":["#c040c0","#22228f","#a3a33a","#2f952f","#7d0b3c","#cfcfcf","#29e3ee","#e43be4","#2b2bd0","#f2f23a","#55e055","#e23b3b","#1a1a1a"]},"legend":null},"strokeWidth":{"condition":{"test":"datum.c=='c4'","value":2},"value":1}}},
{"data":{"name":"s"},"transform":[{"filter":"datum.p=='B'"}],"mark":{"type":"rule","color":"#3c34b8"},"encoding":{"x":{"field":"t","type":"quantitative"},"y":{"field":"lo","type":"quantitative"},"y2":{"field":"hi"}}},
{"data":{"values":[{}]},"mark":{"type":"text","text":"B","align":"left","baseline":"alphabetic","dx":-53,"fontSize":13,"fontWeight":"bold"},"encoding":{"x":{"datum":-100},"y":{"datum":1400}}},
{"data":{"values":[{}]},"mark":{"type":"text","text":"GatR-P","align":"right","baseline":"alphabetic","fontSize":14},"encoding":{"x":{"datum":410},"y":{"datum":1225}}},
{"data":{"values":[{}]},"mark":{"type":"text","text":"gatZ","align":"left","baseline":"alphabetic","fontSize":8.5,"fontStyle":"italic"},"encoding":{"x":{"datum":411},"y":{"datum":1200}}}
]},
{"width":181,"height":151,"title":{"text":"ka=2.1x10⁴ M⁻¹ s⁻¹; kd=3.9x10⁻³ s⁻¹; KD=18.8 nM","orient":"bottom","fontSize":10.5,"fontWeight":"normal","offset":12},
"layer":[
{"data":{"name":"d"},"transform":[{"filter":"datum.p=='C'"}],"mark":{"type":"line","interpolate":"monotone"},"encoding":{"x":{"field":"t","type":"quantitative","scale":{"domain":[-100,480],"nice":false,"zero":false},"axis":{"values":[-100,0,100,200,300,400],"tickCount":20,"title":"Time [s]","labelOverlap":false,"format":"d"}},"y":{"field":"v","type":"quantitative","scale":{"domain":[-68,1400],"nice":false},"axis":{"values":[0,200,400,600,800,1000,1200,1400],"tickCount":20,"title":"Response Units","labelOverlap":false,"format":"d"}},"color":{"field":"c","type":"nominal","scale":{"domain":["pre","c1","c2","c3","c4","c5","c6","c7","c8","c9","c10","c11","c12"],"range":["#c040c0","#22228f","#a3a33a","#2f952f","#7d0b3c","#cfcfcf","#29e3ee","#e43be4","#2b2bd0","#f2f23a","#55e055","#e23b3b","#1a1a1a"]},"legend":null},"strokeWidth":{"condition":{"test":"datum.c=='c4'","value":2},"value":1}}},
{"data":{"name":"s"},"transform":[{"filter":"datum.p=='C'"}],"mark":{"type":"rule","color":"#3c34b8"},"encoding":{"x":{"field":"t","type":"quantitative"},"y":{"field":"lo","type":"quantitative"},"y2":{"field":"hi"}}},
{"data":{"values":[{}]},"mark":{"type":"text","text":"C","align":"left","baseline":"alphabetic","dx":-57,"fontSize":13,"fontWeight":"bold"},"encoding":{"x":{"datum":-100},"y":{"datum":1400}}},
{"data":{"values":[{}]},"mark":{"type":"text","text":"GatR-P","align":"right","baseline":"alphabetic","fontSize":14},"encoding":{"x":{"datum":402},"y":{"datum":1225}}},
{"data":{"values":[{}]},"mark":{"type":"text","text":"gatR","align":"left","baseline":"alphabetic","fontSize":8.5,"fontStyle":"italic"},"encoding":{"x":{"datum":403},"y":{"datum":1200}}}
]},
{"width":181,"height":156,"title":{"text":"ka=6.8x10⁴ M⁻¹ s⁻¹; kd=2.4x10⁻³ s⁻¹; KD=36.0 nM","orient":"bottom","fontSize":10.5,"fontWeight":"normal","offset":12},
"layer":[
{"data":{"name":"d"},"transform":[{"filter":"datum.p=='D'"}],"mark":{"type":"line","interpolate":"monotone"},"encoding":{"x":{"field":"t","type":"quantitative","scale":{"domain":[-100,480],"nice":false,"zero":false},"axis":{"values":[-100,0,100,200,300,400],"tickCount":20,"title":"Time [s]","labelOverlap":false,"format":"d"}},"y":{"field":"v","type":"quantitative","scale":{"domain":[-60,1400],"nice":false},"axis":{"values":[0,200,400,600,800,1000,1200,1400],"tickCount":20,"title":"Response Units","labelOverlap":false,"format":"d"}},"color":{"field":"c","type":"nominal","scale":{"domain":["pre","c1","c2","c3","c4","c5","c6","c7","c8","c9","c10","c11","c12"],"range":["#c040c0","#22228f","#a3a33a","#2f952f","#7d0b3c","#cfcfcf","#29e3ee","#e43be4","#2b2bd0","#f2f23a","#55e055","#e23b3b","#1a1a1a"]},"legend":null},"strokeWidth":{"condition":{"test":"datum.c=='c4'","value":2},"value":1}}},
{"data":{"values":[{}]},"mark":{"type":"rule","color":"#b4b4b4"},"encoding":{"x":{"datum":480}}},
{"data":{"values":[{}]},"mark":{"type":"text","text":"D","align":"left","baseline":"alphabetic","dx":-57,"fontSize":13,"fontWeight":"bold"},"encoding":{"x":{"datum":-100},"y":{"datum":1400}}},
{"data":{"values":[{}]},"mark":{"type":"text","text":"CRP-P","align":"right","baseline":"alphabetic","fontSize":14},"encoding":{"x":{"datum":402},"y":{"datum":1225}}},
{"data":{"values":[{}]},"mark":{"type":"text","text":"gatY","align":"left","baseline":"alphabetic","fontSize":8.5,"fontStyle":"italic"},"encoding":{"x":{"datum":403},"y":{"datum":1200}}}
]},
{"width":181,"height":156,"title":{"text":"ka=1.4x10⁵ M⁻¹ s⁻¹; kd=5.2x10⁻³ s⁻¹; KD=37.6 nM","orient":"bottom","fontSize":10.5,"fontWeight":"normal","offset":12},
"layer":[
{"data":{"name":"d"},"transform":[{"filter":"datum.p=='E'"}],"mark":{"type":"line","interpolate":"monotone"},"encoding":{"x":{"field":"t","type":"quantitative","scale":{"domain":[-100,480],"nice":false,"zero":false},"axis":{"values":[-100,0,100,200,300,400],"tickCount":20,"title":"Time [s]","labelOverlap":false,"format":"d"}},"y":{"field":"v","type":"quantitative","scale":{"domain":[-60,1400],"nice":false},"axis":{"values":[0,200,400,600,800,1000,1200,1400],"tickCount":20,"title":"Response Units","labelOverlap":false,"format":"d"}},"color":{"field":"c","type":"nominal","scale":{"domain":["pre","c1","c2","c3","c4","c5","c6","c7","c8","c9","c10","c11","c12"],"range":["#c040c0","#22228f","#a3a33a","#2f952f","#7d0b3c","#cfcfcf","#29e3ee","#e43be4","#2b2bd0","#f2f23a","#55e055","#e23b3b","#1a1a1a"]},"legend":null},"strokeWidth":{"condition":{"test":"datum.c=='c4'","value":2},"value":1}}},
{"data":{"values":[{}]},"mark":{"type":"rule","color":"#b4b4b4"},"encoding":{"x":{"datum":480}}},
{"data":{"name":"s"},"transform":[{"filter":"datum.p=='E'"}],"mark":{"type":"rule","color":"#3c34b8"},"encoding":{"x":{"field":"t","type":"quantitative"},"y":{"field":"lo","type":"quantitative"},"y2":{"field":"hi"}}},
{"data":{"values":[{}]},"mark":{"type":"text","text":"E","align":"left","baseline":"alphabetic","dx":-57,"fontSize":13,"fontWeight":"bold"},"encoding":{"x":{"datum":-100},"y":{"datum":1400}}},
{"data":{"values":[{}]},"mark":{"type":"text","text":"CRP-P","align":"right","baseline":"alphabetic","fontSize":14},"encoding":{"x":{"datum":402},"y":{"datum":1225}}},
{"data":{"values":[{}]},"mark":{"type":"text","text":"gatZ","align":"left","baseline":"alphabetic","fontSize":8.5,"fontStyle":"italic"},"encoding":{"x":{"datum":403},"y":{"datum":1200}}}
]},
{"width":181,"height":156,"title":{"text":"ka=5.7x10⁵ M⁻¹ s⁻¹; kd=1.3x10⁻² s⁻¹; KD=22.8 nM","orient":"bottom","fontSize":10.5,"fontWeight":"normal","offset":12},
"layer":[
{"data":{"name":"d"},"transform":[{"filter":"datum.p=='F'"}],"mark":{"type":"line","interpolate":"monotone"},"encoding":{"x":{"field":"t","type":"quantitative","scale":{"domain":[-100,480],"nice":false,"zero":false},"axis":{"values":[-100,0,100,200,300,400],"tickCount":20,"title":"Time [s]","labelOverlap":false,"format":"d"}},"y":{"field":"v","type":"quantitative","scale":{"domain":[-60,1400],"nice":false},"axis":{"values":[0,200,400,600,800,1000,1200,1400],"tickCount":20,"title":"Response Units","labelOverlap":false,"format":"d"}},"color":{"field":"c","type":"nominal","scale":{"domain":["pre","c1","c2","c3","c4","c5","c6","c7","c8","c9","c10","c11","c12"],"range":["#c040c0","#22228f","#a3a33a","#2f952f","#7d0b3c","#cfcfcf","#29e3ee","#e43be4","#2b2bd0","#f2f23a","#55e055","#e23b3b","#1a1a1a"]},"legend":null},"strokeWidth":{"condition":{"test":"datum.c=='c4'","value":2},"value":1}}},
{"data":{"values":[{}]},"mark":{"type":"rule","color":"#b4b4b4"},"encoding":{"x":{"datum":480}}},
{"data":{"name":"s"},"transform":[{"filter":"datum.p=='F'"}],"mark":{"type":"rule","color":"#3c34b8"},"encoding":{"x":{"field":"t","type":"quantitative"},"y":{"field":"lo","type":"quantitative"},"y2":{"field":"hi"}}},
{"data":{"values":[{}]},"mark":{"type":"text","text":"F","align":"left","baseline":"alphabetic","dx":-57,"fontSize":13,"fontWeight":"bold"},"encoding":{"x":{"datum":-100},"y":{"datum":1400}}},
{"data":{"values":[{}]},"mark":{"type":"text","text":"CRP-P","align":"right","baseline":"alphabetic","fontSize":14},"encoding":{"x":{"datum":402},"y":{"datum":1225}}},
{"data":{"values":[{}]},"mark":{"type":"text","text":"gatR","align":"left","baseline":"alphabetic","fontSize":8.5,"fontStyle":"italic"},"encoding":{"x":{"datum":403},"y":{"datum":1200}}}
]}
]
}
